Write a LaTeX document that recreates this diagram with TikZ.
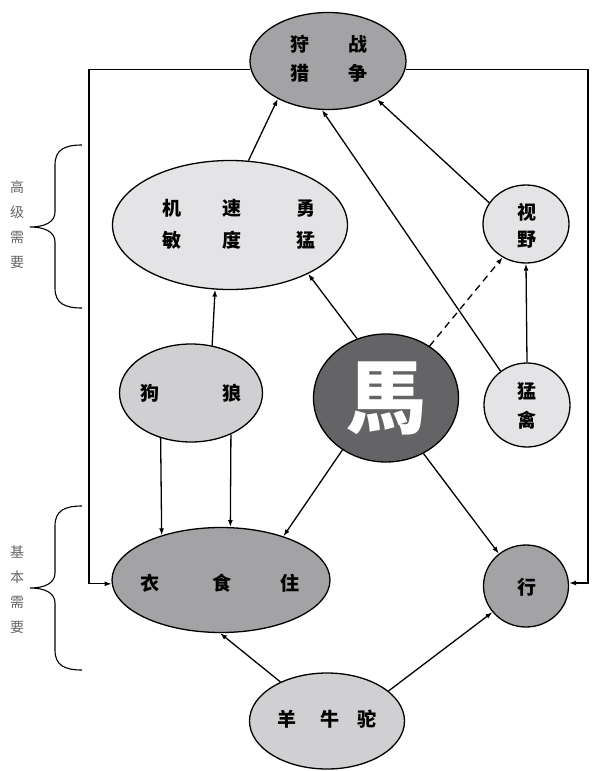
\documentclass[tikz,border=0pt]{standalone}
\usepackage{fontspec}
\newfontfamily\cjk{Noto Sans CJK SC}
\newfontfamily\cjktc{Noto Sans CJK TC}
\usetikzlibrary{arrows.meta,shapes.geometric}
\definecolor{darkfill}{HTML}{646467}
\definecolor{midfill}{HTML}{A3A3A6}
\definecolor{lightfill}{HTML}{D0D0D2}
\definecolor{palefill}{HTML}{E4E4E6}
\definecolor{sidegray}{HTML}{666666}

\begin{document}
\begin{tikzpicture}[x=1pt,y=-1pt,line width=1.3pt,>={Latex[length=7pt,width=5pt]},
	bubble/.style={draw, ellipse, inner sep=0pt},
	word/.style={font=\cjk\bfseries\fontsize{19}{29}\selectfont, inner sep=0pt},
	side/.style={font=\cjk\fontsize{14}{25}\selectfont, text=sidegray, align=center, inner sep=0pt}]
	\useasboundingbox (0,0) rectangle (594,771);

	% bubbles
	\node[bubble, fill=midfill, minimum width=156pt, minimum height=97pt] (hunt) at (328,61) {};
	\node[bubble, fill=palefill, minimum width=235pt, minimum height=129pt] (ag) at (230,225) {};
	\node[bubble, fill=lightfill, minimum width=143pt, minimum height=98pt] (dog) at (191,393) {};
	\node[bubble, fill=darkfill, minimum width=145pt, minimum height=128pt, text=white,
		font=\cjktc\bfseries\fontsize{80}{80}\selectfont] (horse) at (386,398) {馬};
	\node[bubble, fill=palefill, minimum width=86pt, minimum height=78pt] (eye) at (526,224) {};
	\node[bubble, fill=palefill, minimum width=86pt, minimum height=84pt] (hawk) at (527,405) {};
	\node[bubble, fill=midfill, minimum width=218pt, minimum height=105pt] (food) at (221,580) {};
	\node[bubble, fill=midfill, minimum width=85pt, minimum height=82pt] (go) at (526,586) {};
	\node[bubble, fill=lightfill, minimum width=155pt, minimum height=96pt] (sheep) at (327,721) {};

	% texts
	\node[word] (hunt-txt) at (329,60) {\begin{tabular}{@{}c@{\hspace{39pt}}c@{}}狩&战\\猎&争\end{tabular}};
	\node[word] (ag-txt) at (239,226) {\begin{tabular}{@{}c@{\hspace{42pt}}c@{\hspace{55pt}}c@{}}机&速&勇\\[3pt]敏&度&猛\end{tabular}};
	\node[word] (dog-txt) at (191,395) {\begin{tabular}{@{}c@{\hspace{63pt}}c@{}}狗&狼\end{tabular}};
	\node[word, align=center] (eye-txt) at (527,226) {视\\[-2pt]野};
	\node[word, align=center] (hawk-txt) at (527,406) {猛\\禽};
	\node[word] (food-txt) at (220,585) {\begin{tabular}{@{}c@{\hspace{53pt}}c@{\hspace{49pt}}c@{}}衣&食&住\end{tabular}};
	\node[word] (go-txt) at (527,587) {行};
	\node[word] (sheep-txt) at (327,721) {\begin{tabular}{@{}c@{\hspace{24pt}}c@{\hspace{18pt}}c@{}}羊&牛&驼\end{tabular}};

	% side braces
	\foreach \t/\m/\b in {145/227/308, 506/588/670} {
		\draw[line width=1.1pt] (82,\t) .. controls (64,\t) and (55,\t+5) .. (55,\t+20) -- (55,\m-15)
			.. controls (55,\m-5) and (45,\m) .. (30,\m) .. controls (45,\m) and (55,\m+5) .. (55,\m+15)
			-- (55,\b-20) .. controls (55,\b-5) and (64,\b) .. (82,\b);
	}
	\node[side] (high) at (17,225) {高\\级\\需\\要};
	\node[side] (base) at (17,590) {基\\本\\需\\要};

	% connectors
	\coordinate (lrail) at (89,300);
	\coordinate (rrail) at (588,300);
	\draw[->] (ag.74) -- (hunt.217);
	\draw[->] (hawk.128) -- (hunt.263);
	\draw[->] (eye.150) -- (hunt.322);
	\draw[->] (horse.116) -- (ag.328);
	\draw[->, dash pattern=on 7pt off 5pt] (horse.50) -- (eye.235);
	\draw[->] (hawk.north) -- (eye.south);
	\draw[->] (dog.66) -- (ag.257);
	\draw[->] (dog.236) -- (food.143);
	\draw[->] (dog.314) -- (food.80);
	\draw[->] (horse.230) -- (food.35);
	\draw[->] (horse.304) -- (go.130);
	\draw[->] (sheep.140) -- (food.269);
	\draw[->] (sheep.26) -- (go.218);
	\draw[->] (hunt.186) -| (lrail) |- (food.182);
	\draw[->] (hunt.354) -| (rrail) |- (go.4);
\end{tikzpicture}
\end{document}
